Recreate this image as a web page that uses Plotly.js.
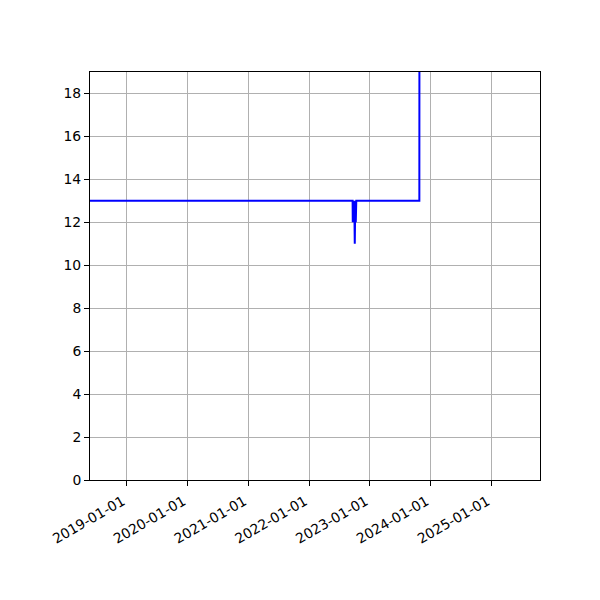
<!DOCTYPE html>
<html>
<head>
<meta charset="utf-8">
<script src="https://cdn.plot.ly/plotly-3.0.1.min.js"></script>
<style>
  html, body { margin: 0; padding: 0; background: #fff; }
  #chart { width: 600px; height: 600px; }
</style>
</head>
<body>
<div id="chart"></div>
<script>
// series
var dates = [
  '2018-01-01', '2022-09-20', '2022-09-21', '2022-09-24', '2022-09-27',
  '2022-09-30', '2022-10-03', '2022-10-06', '2022-10-09', '2022-10-12',
  '2023-10-26', '2023-10-27'
];
var values = [13, 13, 12, 13, 12, 13, 11, 13, 12, 13, 13, 30];

var yearTicks = ['2019-01-01', '2020-01-01', '2021-01-01', '2022-01-01',
                 '2023-01-01', '2024-01-01', '2025-01-01'];
var yTicks = [0, 2, 4, 6, 8, 10, 12, 14, 16, 18];

var trace = {
  x: dates,
  y: values,
  type: 'scatter',
  mode: 'lines',
  line: { color: '#0000ff', width: 2 },
  hoverinfo: 'none'
};

var layout = {
  width: 600,
  height: 600,
  margin: { l: 90, r: 60, t: 72, b: 120 },
  paper_bgcolor: '#ffffff',
  plot_bgcolor: '#ffffff',
  showlegend: false,
  font: { family: 'DejaVu Sans', size: 13.9, color: '#000' },
  xaxis: {
    type: 'date',
    range: ['2018-05-26', '2025-10-20'],
    tickmode: 'array',
    tickvals: yearTicks,
    ticktext: yearTicks,
    tickangle: -30,
    ticklabelshift: -4,
    ticklabelstandoff: 2,
    ticks: 'outside',
    ticklen: 5,
    tickcolor: '#000',
    showgrid: true,
    gridcolor: '#b0b0b0',
    gridwidth: 1,
    showline: true,
    linecolor: '#000',
    linewidth: 1,
    mirror: true,
    zeroline: false
  },
  yaxis: {
    range: [0, 19],
    tickmode: 'array',
    tickvals: yTicks,
    ticks: 'outside',
    ticklen: 5,
    tickcolor: '#000',
    showgrid: true,
    gridcolor: '#b0b0b0',
    gridwidth: 1,
    showline: true,
    linecolor: '#000',
    linewidth: 1,
    mirror: true,
    zeroline: false
  }
};

Plotly.newPlot('chart', [trace], layout, { staticPlot: true, displayModeBar: false });
</script>
</body>
</html>
